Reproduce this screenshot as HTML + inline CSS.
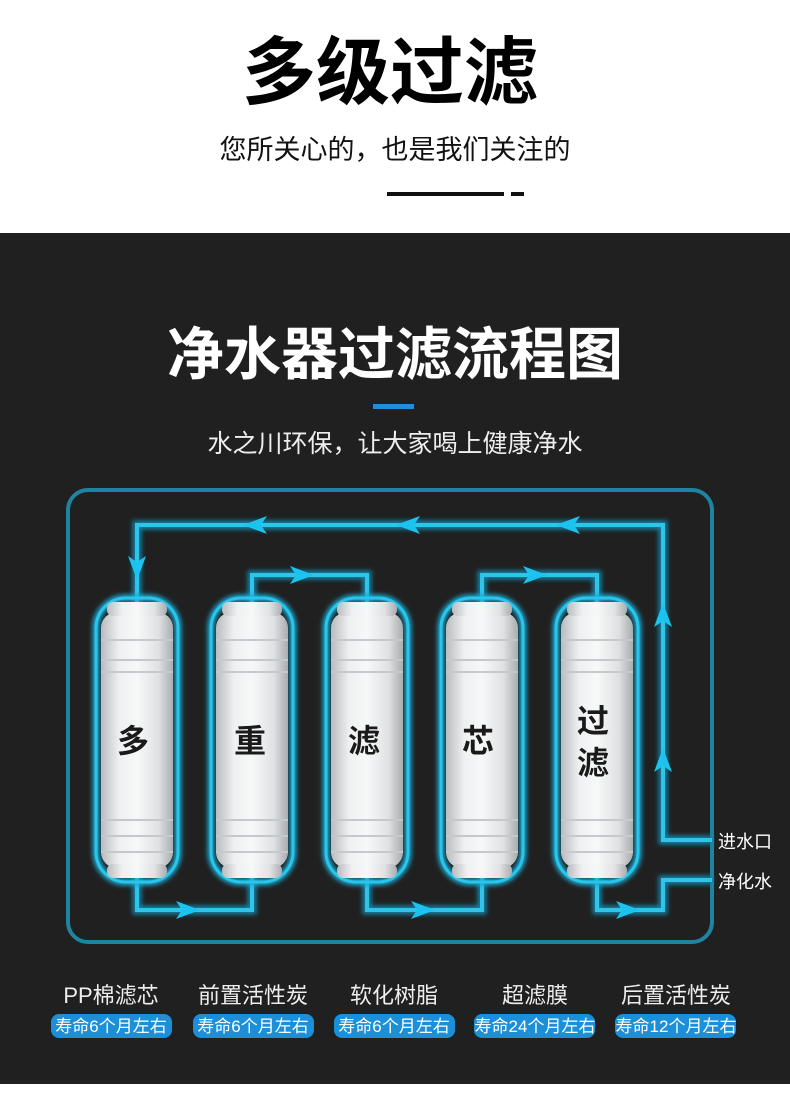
<!DOCTYPE html>
<html><head><meta charset="utf-8"><style>
html,body{margin:0;padding:0;background:#fff}
svg{display:block}
text{font-family:"Liberation Sans","Noto Sans CJK SC",sans-serif}
</style></head><body>
<svg width="790" height="1111" viewBox="0 0 790 1111" xmlns="http://www.w3.org/2000/svg">
<defs>
<linearGradient id="cyl" x1="0" x2="1" y1="0" y2="0">
<stop offset="0" stop-color="#b9bcbf"/><stop offset="0.25" stop-color="#eef0f1"/><stop offset="0.5" stop-color="#f7f8f8"/><stop offset="0.8" stop-color="#dfe1e3"/><stop offset="1" stop-color="#a9adb0"/>
</linearGradient>
<filter id="glow" x="-20%" y="-20%" width="140%" height="140%"><feGaussianBlur stdDeviation="2.5"/></filter>
<g id="arR"><path d="M-12,-9 L12,0 L-12,9 L-6,0 Z" fill="#1cc3ee"/></g>
<g id="filt">
<rect x="-41" y="-142" width="82" height="284" rx="30" fill="none" stroke="#1aa7d0" stroke-width="7" filter="url(#glow)"/>
<rect x="-41" y="-142" width="82" height="284" rx="30" fill="none" stroke="#29c6ec" stroke-width="3"/>
<rect x="-36" y="-128" width="72" height="256" rx="16" fill="url(#cyl)"/>
<rect x="-30" y="-138" width="60" height="14" rx="6" fill="url(#cyl)"/>
<rect x="-30" y="124" width="60" height="14" rx="6" fill="url(#cyl)"/>
<line x1="-36" y1="-100" x2="36" y2="-100" stroke="#c6c9cc" stroke-width="2"/>
<line x1="-36" y1="-80" x2="36" y2="-80" stroke="#c6c9cc" stroke-width="2"/>
<line x1="-36" y1="-68" x2="36" y2="-68" stroke="#c6c9cc" stroke-width="2"/>
<line x1="-36" y1="80" x2="36" y2="80" stroke="#c6c9cc" stroke-width="2"/>
<line x1="-36" y1="96" x2="36" y2="96" stroke="#c6c9cc" stroke-width="2"/>
<line x1="-36" y1="112" x2="36" y2="112" stroke="#c6c9cc" stroke-width="2"/>
</g>
</defs>
<rect width="790" height="1111" fill="#fff"/>
<text x="390" y="98" font-size="74" font-weight="bold" text-anchor="middle" fill="#000">多级过滤</text>
<text x="395" y="159" font-size="27" text-anchor="middle" fill="#111">您所关心的，也是我们关注的</text>
<rect x="387" y="192" width="117" height="4" fill="#111"/>
<rect x="511" y="192" width="13" height="4" fill="#111"/>
<rect x="0" y="233" width="790" height="851" fill="#202020"/>
<text x="395" y="374" font-size="57" font-weight="bold" text-anchor="middle" fill="#fff">净水器过滤流程图</text>
<rect x="373" y="404" width="41" height="5" fill="#1e8fd8"/>
<text x="395" y="452" font-size="25" text-anchor="middle" fill="#eee">水之川环保，让大家喝上健康净水</text>
<rect x="68" y="490" width="644" height="452" rx="20" fill="none" stroke="#1f8fb0" stroke-width="4" opacity="0.9"/>
<g fill="none" stroke-linejoin="miter">
<g stroke="#187fa0" stroke-width="9" filter="url(#glow)">
<path d="M137,605 V525 H663 V840 H712"/>
<path d="M252,605 V575 H367 V605"/><path d="M482,605 V575 H597 V605"/>
<path d="M137,875 V910 H252 V875"/><path d="M367,875 V910 H482 V875"/>
<path d="M597,875 V910 H663 V880 H712"/>
</g>
<g stroke="#2fc4ea" stroke-width="4">
<path d="M137,605 V525 H663 V840 H712"/>
<path d="M252,605 V575 H367 V605"/><path d="M482,605 V575 H597 V605"/>
<path d="M137,875 V910 H252 V875"/><path d="M367,875 V910 H482 V875"/>
<path d="M597,875 V910 H663 V880 H712"/>
</g>
</g>
<use href="#arR" transform="translate(255,525) rotate(180)"/>
<use href="#arR" transform="translate(408,525) rotate(180)"/>
<use href="#arR" transform="translate(568,525) rotate(180)"/>
<use href="#arR" transform="translate(137,568) rotate(90)"/>
<use href="#arR" transform="translate(302,575)"/>
<use href="#arR" transform="translate(535,575)"/>
<use href="#arR" transform="translate(188,910)"/>
<use href="#arR" transform="translate(423,910)"/>
<use href="#arR" transform="translate(628,910)"/>
<use href="#arR" transform="translate(663,615) rotate(-90)"/>
<use href="#arR" transform="translate(663,760) rotate(-90)"/>
<use href="#filt" transform="translate(137,740)"/>
<use href="#filt" transform="translate(252,740)"/>
<use href="#filt" transform="translate(367,740)"/>
<use href="#filt" transform="translate(482,740)"/>
<use href="#filt" transform="translate(597,740)"/>
<g font-size="32" fill="#1a1a1a" text-anchor="middle" font-weight="bold">
<text x="133" y="752">多</text><text x="250" y="752">重</text><text x="364" y="752">滤</text><text x="478" y="752">芯</text>
<text x="593" y="732">过</text><text x="593" y="774">滤</text>
</g>
<text x="718" y="848" font-size="18" fill="#fff">进水口</text>
<text x="718" y="888" font-size="18" fill="#fff">净化水</text>
<g font-size="22" fill="#eee" text-anchor="middle">
<text x="111" y="1003">PP棉滤芯</text><text x="253" y="1003">前置活性炭</text><text x="394" y="1003">软化树脂</text><text x="535" y="1003">超滤膜</text><text x="676" y="1003">后置活性炭</text>
</g>
<g fill="#1b8fd8">
<rect x="51" y="1014" width="121" height="24" rx="8"/><rect x="193" y="1014" width="121" height="24" rx="8"/><rect x="334" y="1014" width="121" height="24" rx="8"/><rect x="474" y="1014" width="121" height="24" rx="8"/><rect x="615" y="1014" width="121" height="24" rx="8"/>
</g>
<g font-size="17" fill="#fff" text-anchor="middle">
<text x="111" y="1032">寿命6个月左右</text><text x="253" y="1032">寿命6个月左右</text><text x="394" y="1032">寿命6个月左右</text><text x="535" y="1032">寿命24个月左右</text><text x="676" y="1032">寿命12个月左右</text>
</g>
</svg>
</body></html>
